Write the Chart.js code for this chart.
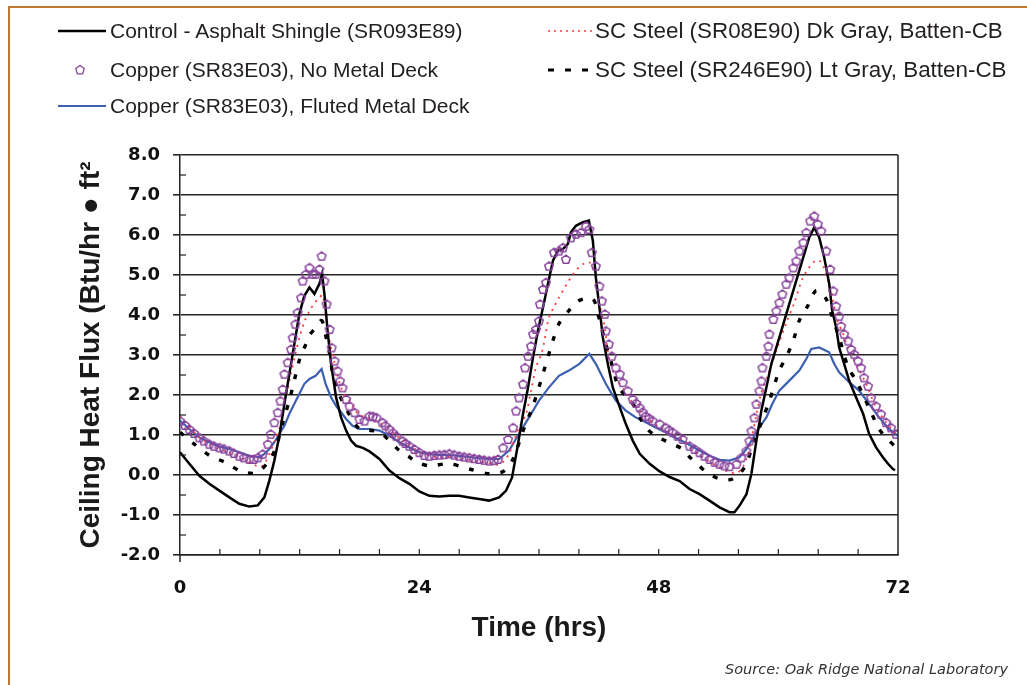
<!DOCTYPE html>
<html>
<head>
<meta charset="utf-8">
<script src="https://cdn.jsdelivr.net/npm/chart.js@4.4.1/dist/chart.umd.min.js"></script>
<style>
  html, body { margin: 0; padding: 0; background: #fff; }
  #wrap { position: relative; width: 1027px; height: 685px; overflow: hidden; }
  #chartBox { position: absolute; left: 0; top: 0; width: 1027px; height: 685px; }
  .frameTop { position: absolute; left: 8px; top: 6px; width: 1019px; height: 2px; background: #c07833; }
  .frameLeft { position: absolute; left: 8px; top: 6px; width: 2px; height: 679px; background: #c07833; }
  .lg { position: absolute; height: 30px; line-height: 30px; white-space: nowrap; color: #231f20;
        font-family: "Liberation Sans", Arial, sans-serif; }
  .c1 { font-size: 21px; left: 110px; }
  .c2 { font-size: 22.4px; left: 595px; }
  .sample { position: absolute; }
  .src { position: absolute; right: 19px; top: 661px; font-family: "DejaVu Sans", sans-serif; font-style: italic;
         font-size: 14.5px; color: #333; white-space: nowrap; }
</style>
</head>
<body>
<div id="wrap">
  <div id="chartBox"><canvas id="c"></canvas></div>
  <div class="frameTop"></div>
  <div class="frameLeft"></div>

  <svg class="sample" style="left:58px;top:26px" width="50" height="10"><line x1="0" y1="5" x2="48" y2="5" stroke="#000" stroke-width="2.4"/></svg>
  <div class="lg c1" style="top:16px">Control - Asphalt Shingle (SR093E89)</div>

  <svg class="sample" style="left:74px;top:64px" width="12" height="12"><polygon points="6,1.5 10.2,4.6 8.6,9.8 3.4,9.8 1.8,4.6" fill="none" stroke="#88449c" stroke-width="1.3"/></svg>
  <div class="lg c1" style="top:55px">Copper (SR83E03), No Metal Deck</div>

  <svg class="sample" style="left:58px;top:101px" width="50" height="10"><line x1="0" y1="5" x2="48" y2="5" stroke="#3d5fb0" stroke-width="2.2"/></svg>
  <div class="lg c1" style="top:91px">Copper (SR83E03), Fluted Metal Deck</div>

  <svg class="sample" style="left:548px;top:26px" width="46" height="10"><line x1="0" y1="5" x2="46" y2="5" stroke="#ff3b3b" stroke-width="1.6" stroke-dasharray="2,4"/></svg>
  <div class="lg c2" style="top:16px">SC Steel (SR08E90) Dk Gray, Batten-CB</div>

  <svg class="sample" style="left:548px;top:65px" width="46" height="10"><line x1="0" y1="5" x2="44" y2="5" stroke="#000" stroke-width="3" stroke-dasharray="6,11"/></svg>
  <div class="lg c2" style="top:55px">SC Steel (SR246E90) Lt Gray, Batten-CB</div>

  <div class="src">Source: Oak Ridge National Laboratory</div>
</div>

<script>
// ---------------- DATA ----------------
const controlHours = [0,0.94,1.94,2.94,3.95,4.95,5.95,6.96,7.8,8.46,8.96,9.46,9.97,10.47,10.97,11.47,11.97,12.47,12.98,13.48,13.98,14.25,14.48,14.8,15.15,15.65,16.15,16.66,17.16,17.66,18.33,19,20,21,22,23,24,25,26,27,28,29,30,31,32,32.7,33.3,33.9,34.4,34.9,35.4,35.9,36.4,36.9,37.4,37.9,38.4,38.9,39.2,39.7,40.4,41,41.4,41.7,42.1,42.4,42.9,43.4,44.1,44.7,45.4,46.1,47.1,48.1,49.1,50.1,51.1,52.1,53.1,54.1,55.1,55.6,56.1,56.8,57.3,57.8,58.3,58.8,59.3,59.8,60.4,61.1,61.8,62.5,63.1,63.6,64.1,64.6,65.1,65.4,65.8,66.1,66.6,67.1,67.8,68.5,69.1,69.8,70.5,71,71.5,71.7];
const controlFlux  = [0.57,0.28,-0.02,-0.22,-0.39,-0.56,-0.72,-0.79,-0.76,-0.56,-0.14,0.36,0.98,1.78,2.53,3.28,4.03,4.48,4.69,4.53,4.78,5.03,4.53,3.6,2.78,1.94,1.44,1.11,0.86,0.73,0.68,0.59,0.4,0.11,-0.08,-0.22,-0.41,-0.52,-0.54,-0.52,-0.52,-0.56,-0.6,-0.64,-0.56,-0.39,-0.06,0.78,1.53,2.19,2.94,3.61,4.19,4.78,5.36,5.61,5.65,5.78,6.07,6.23,6.32,6.36,5.86,4.94,4.1,3.44,2.78,2.19,1.69,1.28,0.86,0.53,0.28,0.09,-0.05,-0.15,-0.35,-0.48,-0.64,-0.81,-0.93,-0.93,-0.77,-0.48,0.03,0.86,1.61,2.19,2.78,3.19,3.69,4.28,4.86,5.44,5.94,6.19,5.94,5.44,4.78,4.11,3.69,3.19,2.78,2.36,1.94,1.53,1.03,0.69,0.44,0.28,0.15,0.12];

const copperNoDeckHours = [0,0.5,0.94,1.4,1.94,2.4,2.94,3.4,3.95,4.4,4.95,5.4,5.95,6.4,6.96,7.4,7.8,8.3,8.8,9.1,9.46,9.8,10.07,10.3,10.47,10.8,11.14,11.3,11.57,11.8,12.14,12.3,12.64,12.98,13.3,13.6,13.98,14.2,14.48,14.7,15,15.2,15.5,15.8,16.05,16.3,16.66,17,17.5,18,18.5,19,19.35,19.7,20.3,20.6,21,21.35,21.7,22.3,22.6,23,23.5,24,24.5,25,25.5,26,26.5,27,27.5,28,28.5,29,29.5,30,30.5,31,31.5,31.9,32.4,32.9,33.4,33.7,34,34.4,34.6,34.9,35.2,35.4,35.7,36,36.1,36.4,36.7,37,37.5,38,38.4,38.7,39.2,39.7,40.2,40.7,41.05,41.3,41.7,42.05,42.3,42.6,42.7,43,43.3,43.7,44.1,44.4,44.9,45.4,45.75,46.1,46.4,46.7,47.05,47.4,48.1,48.7,49.05,49.4,49.9,50.4,51.1,51.6,52.1,52.6,53.1,53.6,54.1,54.6,55.1,55.8,56.3,56.8,57.1,57.3,57.6,57.8,58.1,58.3,58.4,58.8,59,59.1,59.5,59.8,60.1,60.4,60.8,61.1,61.5,61.8,62.1,62.5,62.8,63.2,63.6,63.96,64.3,64.8,65.2,65.5,65.8,66.1,66.3,66.6,67,67.3,67.6,68,68.3,68.6,69,69.3,69.8,70.3,70.8,71.3,71.8];
const copperNoDeckFlux  = [1.36,1.25,1.15,1.05,0.94,0.86,0.78,0.73,0.69,0.66,0.61,0.55,0.48,0.44,0.4,0.4,0.44,0.53,0.78,1.03,1.32,1.57,1.86,2.15,2.53,2.82,3.15,3.44,3.78,4.07,4.44,4.86,5.03,5.19,5.03,5.03,5.15,5.48,4.86,4.28,3.65,3.19,2.86,2.61,2.36,2.19,1.9,1.73,1.57,1.4,1.36,1.48,1.47,1.44,1.32,1.24,1.15,1.06,0.98,0.86,0.8,0.73,0.65,0.57,0.5,0.48,0.5,0.51,0.52,0.54,0.51,0.48,0.46,0.44,0.42,0.4,0.38,0.36,0.37,0.4,0.69,0.9,1.19,1.61,1.94,2.28,2.69,2.98,3.23,3.53,3.65,3.86,4.28,4.65,4.82,5.23,5.57,5.61,5.69,5.4,5.94,6.03,6.07,6.23,6.15,5.57,5.23,4.73,4.36,4.03,3.61,3.28,2.98,2.69,2.53,2.32,2.11,1.9,1.8,1.69,1.58,1.48,1.42,1.36,1.28,1.19,1.13,1.07,0.98,0.9,0.73,0.65,0.57,0.48,0.4,0.33,0.28,0.24,0.22,0.28,0.44,0.61,0.86,1.11,1.44,1.78,2.11,2.36,2.69,2.98,3.23,3.53,3.9,4.11,4.32,4.53,4.78,4.94,5.19,5.36,5.61,5.82,6.07,6.36,6.48,6.28,6.11,5.61,5.15,4.61,4.23,3.98,3.73,3.53,3.36,3.15,3.03,2.86,2.69,2.44,2.23,1.94,1.73,1.53,1.32,1.19,1.03];

const copperFlutedHours = [0,0.94,1.94,2.94,3.95,4.95,5.95,6.96,7.96,8.46,8.96,9.46,9.97,10.47,10.97,11.47,11.97,12.47,12.98,13.6,14.2,14.6,15.15,15.65,16.15,16.66,17.3,18,19,20,21,22,23,24,25,26,27,28,29,30,31,32,33,34,35,36,37,38,39,40.05,41.05,41.7,42.7,43.7,44.7,45.7,46.7,47.7,48.7,49.75,50.75,51.6,52.1,53.1,54.1,55.1,56.1,56.8,57.4,58.1,58.8,59.4,60.1,61.1,62.1,62.8,63.3,64.1,65.1,65.6,66.1,67.1,68.1,69.1,70.1,71.1,72];
const copperFlutedFlux  = [1.36,1.15,0.94,0.82,0.71,0.65,0.57,0.48,0.44,0.53,0.65,0.82,1.03,1.23,1.53,1.78,2.03,2.28,2.4,2.48,2.65,2.28,1.94,1.73,1.57,1.4,1.23,1.15,1.15,1.11,0.98,0.82,0.69,0.57,0.52,0.5,0.5,0.48,0.45,0.42,0.4,0.4,0.61,1.03,1.44,1.86,2.19,2.48,2.61,2.78,3.03,2.78,2.28,1.86,1.61,1.44,1.32,1.19,1.07,0.92,0.8,0.68,0.61,0.48,0.38,0.36,0.44,0.65,0.9,1.19,1.44,1.78,2.11,2.36,2.61,2.9,3.15,3.19,3.07,2.78,2.57,2.32,2.11,1.78,1.44,1.15,0.98];

const steelDkHours = [0,1,2,3,4,5,6,7,8,8.5,9,9.5,10,10.5,11,11.5,12,12.5,13,13.5,14,14.3,14.6,15,15.5,16,16.5,17,17.5,18,19,20,21,22,23,24,25,26,27,28,29,30,31,32,32.5,33,33.5,34,34.7,35.2,35.7,36.2,36.5,37,37.5,38,38.5,39,39.5,40,40.5,41,41.5,42,42.6,43,43.7,44.7,45.4,46.1,46.7,47.4,48,48.7,49.7,50.75,51.1,52.1,53.1,54.1,55.1,55.8,56.3,56.8,57.3,57.8,58.3,59.1,60,60.8,61.6,62.4,63.1,63.8,64.3,65,65.5,65.8,66.5,67.1,67.8,68.8,69.8,70.8,71.8];
const steelDkFlux  = [1.48,1.18,0.93,0.78,0.66,0.55,0.45,0.32,0.2,0.3,0.55,0.85,1.2,1.8,2.4,2.95,3.45,3.85,4.11,4.3,4.44,4.5,4,3.36,2.8,2.3,2,1.86,1.65,1.5,1.42,1.3,1.15,0.92,0.75,0.58,0.48,0.45,0.45,0.42,0.38,0.34,0.3,0.26,0.35,0.53,0.85,1.19,1.53,2.1,2.69,3,3.3,3.94,4.2,4.44,4.65,4.86,5.05,5.19,5.28,5.32,5.19,4.36,3.69,2.94,2.44,2.07,1.8,1.61,1.45,1.32,1.2,1.11,0.97,0.82,0.7,0.5,0.33,0.19,0.07,0.05,0.15,0.4,0.9,1.5,2.07,2.6,3.25,3.8,4.3,4.9,5.19,5.37,5.32,4.86,4.36,3.94,3.53,3.11,2.78,2.28,1.69,1.32,1.03];

const steelLtHours = [0,1.4,3,4.5,6,7.6,8.8,9.6,10.3,11,11.5,12,12.5,13,13.5,14.2,14.6,15,15.3,16,17,18,19,20,21,22,23,23.8,25,27,29,31,32.5,33.4,34.4,35.4,36.4,37.4,38,39,40,41.4,42,42.6,43.4,44,45.4,46.7,48,50.4,51.1,51.8,52.6,54.1,55.4,56.6,57.6,59,60.1,60.95,61.6,62.1,62.95,63.8,64.8,65.3,66.1,67,67.8,69.3,70.1,71.1,72];
const steelLtFlux  = [1.07,0.78,0.48,0.32,0.11,0.05,0.31,0.68,1.3,1.9,2.4,2.9,3.2,3.5,3.65,3.86,3.5,3.03,2.57,2,1.5,1.15,1.12,1.07,0.86,0.61,0.45,0.32,0.23,0.28,0.15,0.03,0.1,0.4,1.1,1.73,2.53,3.36,3.78,4.11,4.36,4.4,3.94,3.36,2.69,2.19,1.78,1.19,0.94,0.65,0.45,0.3,0.11,-0.1,-0.1,0.19,0.86,1.78,2.61,3.03,3.44,3.86,4.23,4.61,4.4,4.03,3.44,2.69,2.36,1.57,1.15,0.86,0.65];

const yTickMin = -2, yTickMax = 8, yTickStep = 1;
const xTickMin = 0, xTickMax = 72, xLabelStep = 24, xTickStep = 4;

// ---------------- helpers ----------------
const pts = (xs, ys) => xs.map((x, i) => ({ x: x, y: ys[i] }));

function pentagon(size, color, lw) {
  const c = document.createElement('canvas');
  c.width = size; c.height = size;
  const g = c.getContext('2d');
  g.strokeStyle = color; g.lineWidth = lw;
  const r = size / 2 - lw; const cx = size / 2, cy = size / 2 + 0.6;
  g.beginPath();
  for (let i = 0; i < 5; i++) {
    const a = -Math.PI / 2 + i * 2 * Math.PI / 5;
    const px = cx + r * Math.cos(a), py = cy + r * Math.sin(a);
    if (i) g.lineTo(px, py); else g.moveTo(px, py);
  }
  g.closePath(); g.stroke();
  return c;
}
const pentaImg = pentagon(12, '#88449c', 1.5);

const frameTicks = {
  id: 'frameTicks',
  afterDraw(chart) {
    const { ctx, chartArea: a, scales } = chart;
    ctx.save();
    ctx.strokeStyle = '#222';
    ctx.lineWidth = 1.5;
    // right border
    ctx.beginPath(); ctx.moveTo(a.right, a.top); ctx.lineTo(a.right, a.bottom); ctx.stroke();
    // y axis extends below x axis
    ctx.beginPath(); ctx.moveTo(a.left, a.bottom); ctx.lineTo(a.left, a.bottom + 7); ctx.stroke();
    ctx.lineWidth = 1.2;
    // minor y ticks (inward)
    for (let v = yTickMin + 0.5; v < yTickMax; v += 1) {
      const py = scales.y.getPixelForValue(v);
      ctx.beginPath(); ctx.moveTo(a.left, py); ctx.lineTo(a.left + 6, py); ctx.stroke();
    }
    // x ticks (inward)
    for (let h = xTickMin + xTickStep; h < xTickMax; h += xTickStep) {
      const px = scales.x.getPixelForValue(h);
      ctx.beginPath(); ctx.moveTo(px, a.bottom); ctx.lineTo(px, a.bottom - 6); ctx.stroke();
    }
    ctx.restore();
  }
};

const ctx = document.getElementById('c').getContext('2d');
new Chart(ctx, {
  type: 'line',
  data: {
    datasets: [
      { label: 'Copper (SR83E03), No Metal Deck', data: pts(copperNoDeckHours, copperNoDeckFlux), showLine: false,
        pointStyle: pentaImg, pointRadius: 6, borderColor: '#88449c', backgroundColor: 'transparent', order: 0 },
      { label: 'Control - Asphalt Shingle (SR093E89)', data: pts(controlHours, controlFlux), borderColor: '#000',
        borderWidth: 2.5, pointRadius: 0, tension: 0, order: 1 },
      { label: 'SC Steel (SR246E90) Lt Gray, Batten-CB', data: pts(steelLtHours, steelLtFlux), borderColor: '#000',
        borderWidth: 3.4, borderDash: [5, 11], pointRadius: 0, tension: 0.3, order: 2 },
      { label: 'SC Steel (SR08E90) Dk Gray, Batten-CB', data: pts(steelDkHours, steelDkFlux), borderColor: '#ff3b3b',
        borderWidth: 1.8, borderDash: [2, 5], pointRadius: 0, tension: 0.3, order: 3 },
      { label: 'Copper (SR83E03), Fluted Metal Deck', data: pts(copperFlutedHours, copperFlutedFlux), borderColor: '#3d5fb0',
        borderWidth: 2.2, pointRadius: 0, tension: 0, order: 4 }
    ]
  },
  options: {
    responsive: true,
    maintainAspectRatio: false,
    animation: false,
    events: [],
    layout: { padding: { left: 74, right: 129, top: 155, bottom: 40 } },
    plugins: { legend: { display: false }, tooltip: { enabled: false } },
    scales: {
      x: {
        type: 'linear', min: xTickMin, max: xTickMax,
        ticks: { stepSize: xLabelStep, autoSkip: false, maxRotation: 0, padding: 23, color: '#111',
                 font: { family: 'DejaVu Sans', size: 18, weight: 'bold' } },
        grid: { display: false, drawTicks: false },
        border: { display: true, color: '#222', width: 1.5 },
        title: { display: true, text: 'Time (hrs)', color: '#1a1a1a', padding: 0,
                 font: { family: 'Liberation Sans', size: 28, weight: 'bold' } },
        afterFit(s) { s.height = 90; }
      },
      y: {
        min: yTickMin, max: yTickMax,
        ticks: { stepSize: yTickStep, padding: 13, color: '#111', callback: v => v.toFixed(1),
                 font: { family: 'DejaVu Sans', size: 18, weight: 'bold' } },
        grid: { color: '#262626', lineWidth: 1.6, tickLength: 7, tickColor: '#262626' },
        border: { display: true, color: '#222', width: 1.5 },
        title: { display: true, text: 'Ceiling Heat Flux (Btu/hr \u25CF ft\u00B2', color: '#1a1a1a', padding: 0,
                 font: { family: 'Liberation Sans', size: 28, weight: 'bold' } },
        afterFit(s) { s.width = 106; }
      }
    }
  },
  plugins: [frameTicks]
});
</script>
</body>
</html>
